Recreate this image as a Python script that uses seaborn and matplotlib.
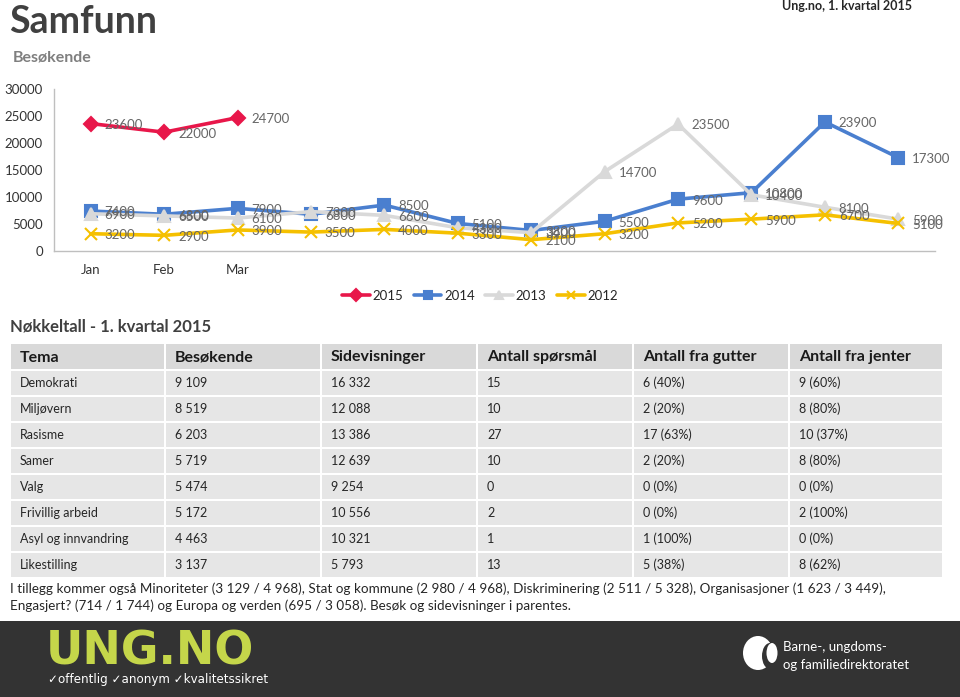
import numpy as np
import pandas as pd
import matplotlib
matplotlib.use('Agg')
import matplotlib.pyplot as plt
from matplotlib.lines import Line2D
from matplotlib.patches import Rectangle, Ellipse
import seaborn as sns

# --- chart data (visitors per month) ---
month_ticks = ['Jan', 'Feb', 'Mar', '', '', '', '', '', '', '', '', '']
years = ['2015', '2014', '2013', '2012']
v2015 = [23600, 22000, 24700]
v2014 = [7400, 6800, 7900, 6800, 8500, 5100, 3800, 5500, 9600, 10800, 23900, 17300]
v2013 = [6900, 6500, 6100, 7300, 6600, 4300, 3400, 14700, 23500, 10400, 8100, 5900]
v2012 = [3200, 2900, 3900, 3500, 4000, 3300, 2100, 3200, 5200, 5900, 6700, 5100]

# --- table data ---
table_header = ['Tema', 'Besøkende', 'Sidevisninger', 'Antall spørsmål',
                'Antall fra gutter', 'Antall fra jenter']
temas = ['Demokrati', 'Miljøvern', 'Rasisme', 'Samer', 'Valg',
         'Frivillig arbeid', 'Asyl og innvandring', 'Likestilling']
besokende = ['9 109', '8 519', '6 203', '5 719', '5 474', '5 172', '4 463', '3 137']
sidevisninger = ['16 332', '12 088', '13 386', '12 639', '9 254', '10 556', '10 321', '5 793']
sporsmal = ['15', '10', '27', '10', '0', '2', '1', '13']
gutter = ['6 (40%)', '2 (20%)', '17 (63%)', '2 (20%)', '0 (0%)', '0 (0%)', '1 (100%)', '5 (38%)']
jenter = ['9 (60%)', '8 (80%)', '10 (37%)', '8 (80%)', '0 (0%)', '2 (100%)', '0 (0%)', '8 (62%)']

footnote = ['I tillegg kommer også Minoriteter (3 129 / 4 968), Stat og kommune (2 980 / 4 968), '
            'Diskriminering (2 511 / 5 328), Organisasjoner (1 623 / 3 449),',
            'Engasjert? (714 / 1 744) og Europa og verden (695 / 3 058). Besøk og sidevisninger i parentes.']

colors = {'2015': '#e8174a', '2014': '#4a7fcf', '2013': '#d9d9d9', '2012': '#f5c000'}
markers = {'2015': 'D', '2014': 's', '2013': '^', '2012': 'x'}
msizes = {'2015': 7, '2014': 8.5, '2013': 8, '2012': 8.5}

series = dict(zip(years, [v2015, v2014, v2013, v2012]))

sns.set_theme(style='white')
plt.rcParams['font.family'] = ['Lato', 'DejaVu Sans']

W, H = 960, 697
fig = plt.figure(figsize=(9.6, 6.97), dpi=100)

# overlay in pixel coordinates for the infographic furniture
ov = fig.add_axes([0, 0, 1, 1], zorder=0)
ov.set_xlim(0, W)
ov.set_ylim(H, 0)
ov.axis('off')

ov.text(9, 22, 'Samfunn', fontsize=27, weight='bold', color='#404040', va='center')
ov.text(13, 57, 'Besøkende', fontsize=11.5, weight='bold', color='#7f7f7f', va='center')
ov.text(912, 6, 'Ung.no, 1. kvartal 2015', fontsize=9, weight='bold', color='#262626',
        ha='right', va='center')
ov.text(10, 327, 'Nøkkeltall - 1. kvartal 2015', fontsize=12, weight='bold',
        color='#404040', va='center')

# table
col_edges = [10, 165, 321, 477, 633, 789, 943]
row_tops = [343] + [370 + 26 * k for k in range(len(temas))]
row_h = [27] + [26] * len(temas)
columns = [temas, besokende, sidevisninger, sporsmal, gutter, jenter]
for r in range(len(row_tops)):
    for c in range(len(col_edges) - 1):
        x0, x1 = col_edges[c], col_edges[c + 1]
        y0 = row_tops[r]
        fc = '#d9d9d9' if r == 0 else '#e6e6e6'
        ov.add_patch(Rectangle((x0 + 1, y0 + 1), x1 - x0 - 2, row_h[r] - 2, fc=fc, ec='none'))
        if r == 0:
            ov.text(x0 + 10, y0 + row_h[r] / 2 + 1, table_header[c], fontsize=11.5,
                    weight='bold', color='#1a1a1a', va='center')
        else:
            ov.text(x0 + 10, y0 + row_h[r] / 2, columns[c][r - 1], fontsize=9,
                    color='#262626', va='center')

for k, line in enumerate(footnote):
    ov.text(10, 589 + 17 * k, line, fontsize=9.7, color='#262626', va='center')

# footer band
ov.add_patch(Rectangle((0, 621), W, H - 621, fc='#333333', ec='none'))
ov.text(46, 652, 'UNG.NO', fontsize=33, color='#c5d64a', va='center', weight='bold',
        family=['DejaVu Sans'])
ov.text(48, 679, '✓offentlig ✓anonym ✓kvalitetssikret', fontsize=8.6, color='white',
        va='center', family=['DejaVu Sans'])
ov.add_patch(Ellipse((758, 653), 30, 34, fc='white', ec='none'))
ov.add_patch(Ellipse((770, 656), 16, 26, fc='#333333', ec='none'))
ov.add_patch(Ellipse((772, 653), 11, 20, fc='white', ec='none'))
ov.text(783, 647, 'Barne-, ungdoms-', fontsize=9.5, color='white', va='center')
ov.text(783, 665, 'og familiedirektoratet', fontsize=9.5, color='white', va='center')

# line chart
ax = fig.add_axes([54 / W, 1 - 251 / H, (935 - 54) / W, (251 - 89) / H], zorder=2)
ax.set_facecolor('none')
for year in years:
    vals = series[year]
    d = pd.DataFrame({'month': range(len(vals)), 'value': vals})
    sns.lineplot(data=d, x='month', y='value', color=colors[year], marker=markers[year],
                 linewidth=2.6, markersize=msizes[year], markeredgewidth=1.5,
                 markeredgecolor=colors[year], ax=ax)
    for i, v in enumerate(vals):
        ax.annotate(str(v), (i, v), xytext=(10, -1), textcoords='offset points',
                    ha='left', va='center', fontsize=9.5, color='#666666')

ax.set_xlim(-0.5, 11.5)
ax.set_ylim(0, 30000)
ax.set_yticks(range(0, 30001, 5000))
ax.set_xticks(range(len(month_ticks)))
ax.set_xticklabels(month_ticks)
ax.tick_params(axis='both', length=0, labelsize=9.5, colors='#333333')
ax.tick_params(axis='x', pad=9)
ax.tick_params(axis='y', pad=8)
ax.set_xlabel('')
ax.set_ylabel('')
ax.grid(False)
sns.despine(ax=ax)
for s in ['left', 'bottom']:
    ax.spines[s].set_color('#bfbfbf')
    ax.spines[s].set_linewidth(1)

handles = [Line2D([0], [0], color=colors[y], marker=markers[y], lw=2.6, markersize=6,
                  markeredgewidth=1.5) for y in years]
fig.legend(handles, years, loc='center', bbox_to_anchor=(0.5, 1 - 296 / H), ncol=4,
           frameon=False, fontsize=9.5, handlelength=2.1, columnspacing=0.8,
           handletextpad=0.2)

plt.savefig('out.png', dpi=100)
